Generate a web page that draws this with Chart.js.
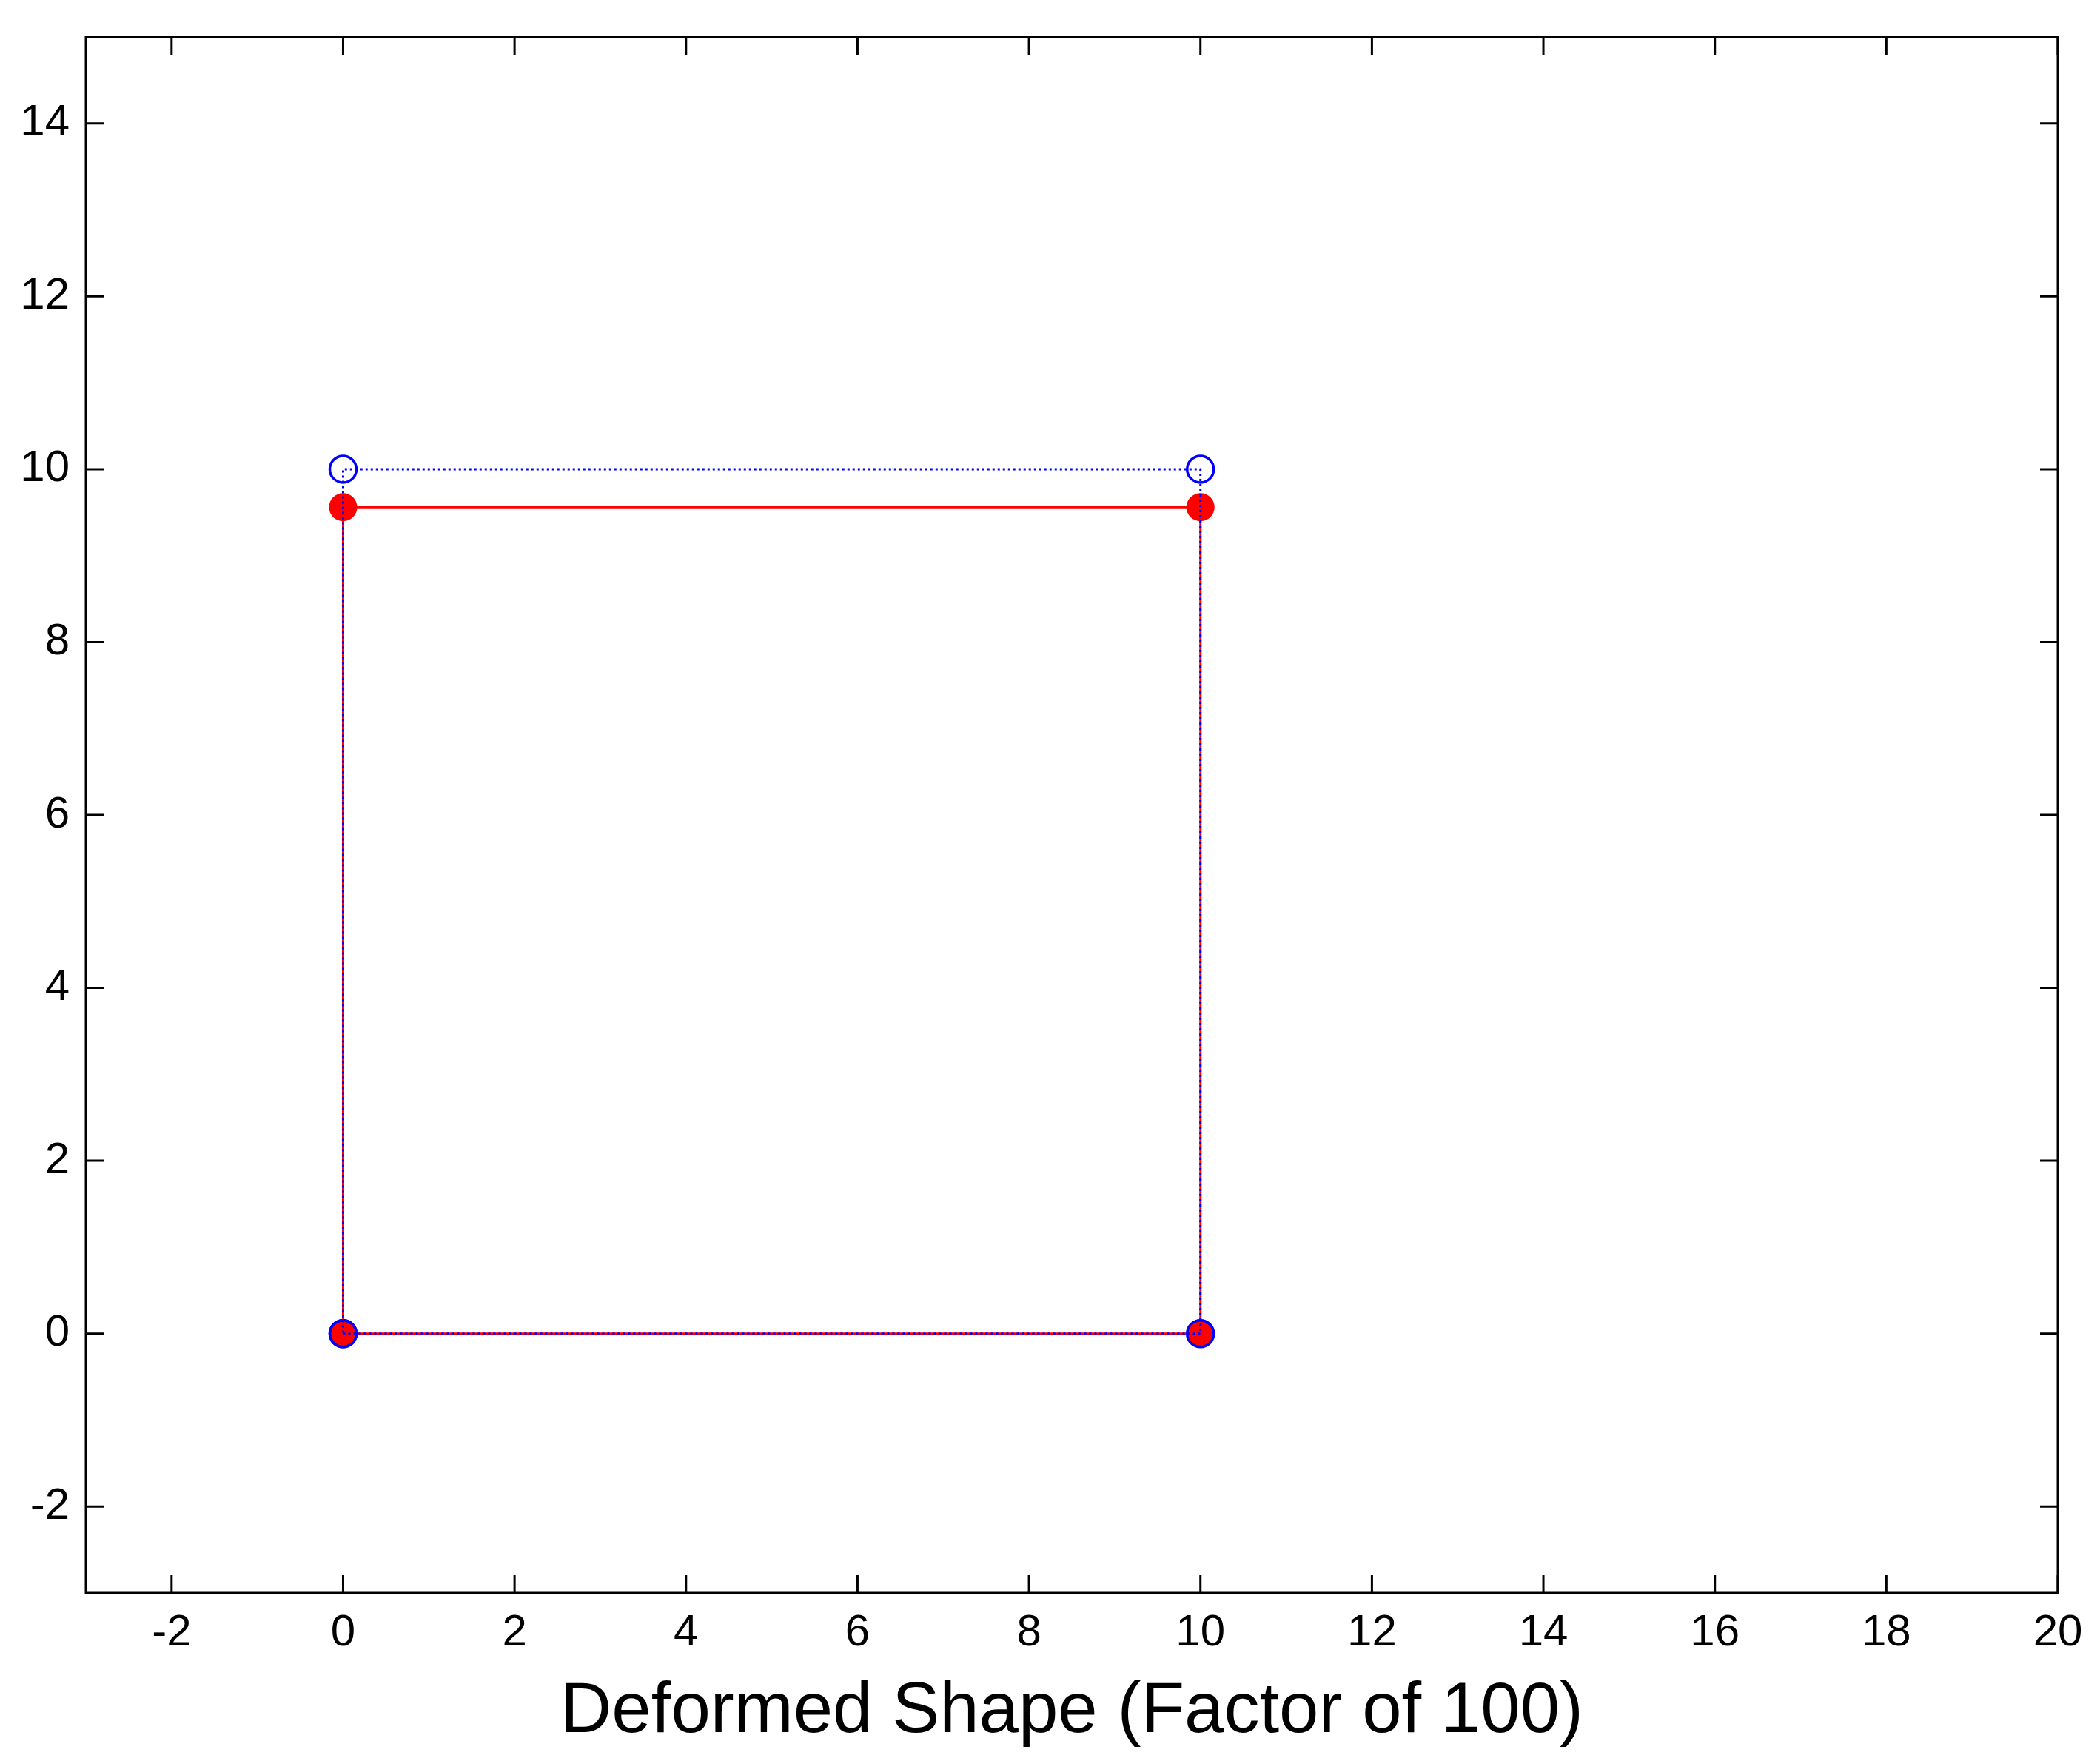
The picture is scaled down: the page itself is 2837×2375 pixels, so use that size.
<!DOCTYPE html>
<html>
<head>
<meta charset="utf-8">
<script src="https://cdn.jsdelivr.net/npm/chart.js@4"></script>
<style>
body { margin: 0; background: #fff; }
#wrap { width: 2837px; height: 2375px; }
</style>
</head>
<body>
<div id="wrap"><canvas id="shapeChart"></canvas></div>
<script>
// Undeformed and deformed nodal coordinates (closed loop)
const undeformedX = [0, 10, 10, 0, 0];
const undeformedY = [0, 0, 10, 10, 0];
const deformedX = [0, 10, 10, 0, 0];
const deformedY = [0, 0, 9.56, 9.56, 0];
const xTicks = [-2, 0, 2, 4, 6, 8, 10, 12, 14, 16, 18, 20];
const yTicks = [-2, 0, 2, 4, 6, 8, 10, 12, 14];

function toPoints(xs, ys) {
    return xs.map((x, i) => ({ x: x, y: ys[i] }));
}

// Frame and inward ticks on all four sides
const framePlugin = {
    id: 'frame',
    afterDraw(chart) {
        const ctx = chart.ctx;
        const a = chart.chartArea;
        const xs = chart.scales.x, ys = chart.scales.y;
        const len = 24;
        ctx.save();
        ctx.strokeStyle = '#000';
        ctx.lineWidth = 3;
        ctx.strokeRect(a.left, a.top, a.right - a.left, a.bottom - a.top);
        ctx.beginPath();
        xTicks.forEach(v => {
            const p = xs.getPixelForValue(v);
            ctx.moveTo(p, a.bottom); ctx.lineTo(p, a.bottom - len);
            ctx.moveTo(p, a.top); ctx.lineTo(p, a.top + len);
        });
        yTicks.forEach(v => {
            const p = ys.getPixelForValue(v);
            ctx.moveTo(a.left, p); ctx.lineTo(a.left + len, p);
            ctx.moveTo(a.right, p); ctx.lineTo(a.right - len, p);
        });
        ctx.stroke();
        ctx.restore();
    }
};

new Chart(document.getElementById('shapeChart').getContext('2d'), {
    type: 'scatter',
    data: {
        datasets: [
            {
                label: 'Undeformed',
                data: toPoints(undeformedX, undeformedY),
                showLine: true,
                borderColor: '#0000ff',
                borderWidth: 3,
                borderDash: [3, 4],
                pointRadius: 18,
                pointBorderWidth: 3.5,
                pointBorderColor: '#0000ff',
                pointBackgroundColor: 'rgba(0,0,0,0)',
                order: 1
            },
            {
                label: 'Deformed',
                data: toPoints(deformedX, deformedY),
                showLine: true,
                borderColor: '#ff0000',
                borderWidth: 3,
                pointRadius: 19,
                pointBorderWidth: 0,
                pointBackgroundColor: '#ff0000',
                order: 2
            }
        ]
    },
    options: {
        responsive: true,
        maintainAspectRatio: false,
        animation: false,
        layout: { padding: { top: 49, right: 57, left: 0, bottom: 0 } },
        plugins: { legend: { display: false }, tooltip: { enabled: false } },
        scales: {
            x: {
                type: 'linear', min: -3, max: 20,
                afterBuildTicks: s => { s.ticks = xTicks.map(v => ({ value: v })); },
                afterFit: s => { s.height = 223; },
                grid: { display: false },
                border: { display: false },
                ticks: { color: '#000', padding: 10, font: { family: 'Liberation Sans', size: 60 } },
                title: {
                    display: true,
                    text: 'Deformed Shape (Factor of 100)',
                    color: '#000',
                    padding: { top: -12 },
                    font: { family: 'Liberation Sans', size: 96 }
                }
            },
            y: {
                type: 'linear', min: -3, max: 15,
                afterBuildTicks: s => { s.ticks = yTicks.map(v => ({ value: v })); },
                afterFit: s => { s.width = 116; },
                grid: { display: false },
                border: { display: false },
                ticks: { color: '#000', padding: 14, font: { family: 'Liberation Sans', size: 60 } }
            }
        }
    },
    plugins: [framePlugin]
});
</script>
</body>
</html>
